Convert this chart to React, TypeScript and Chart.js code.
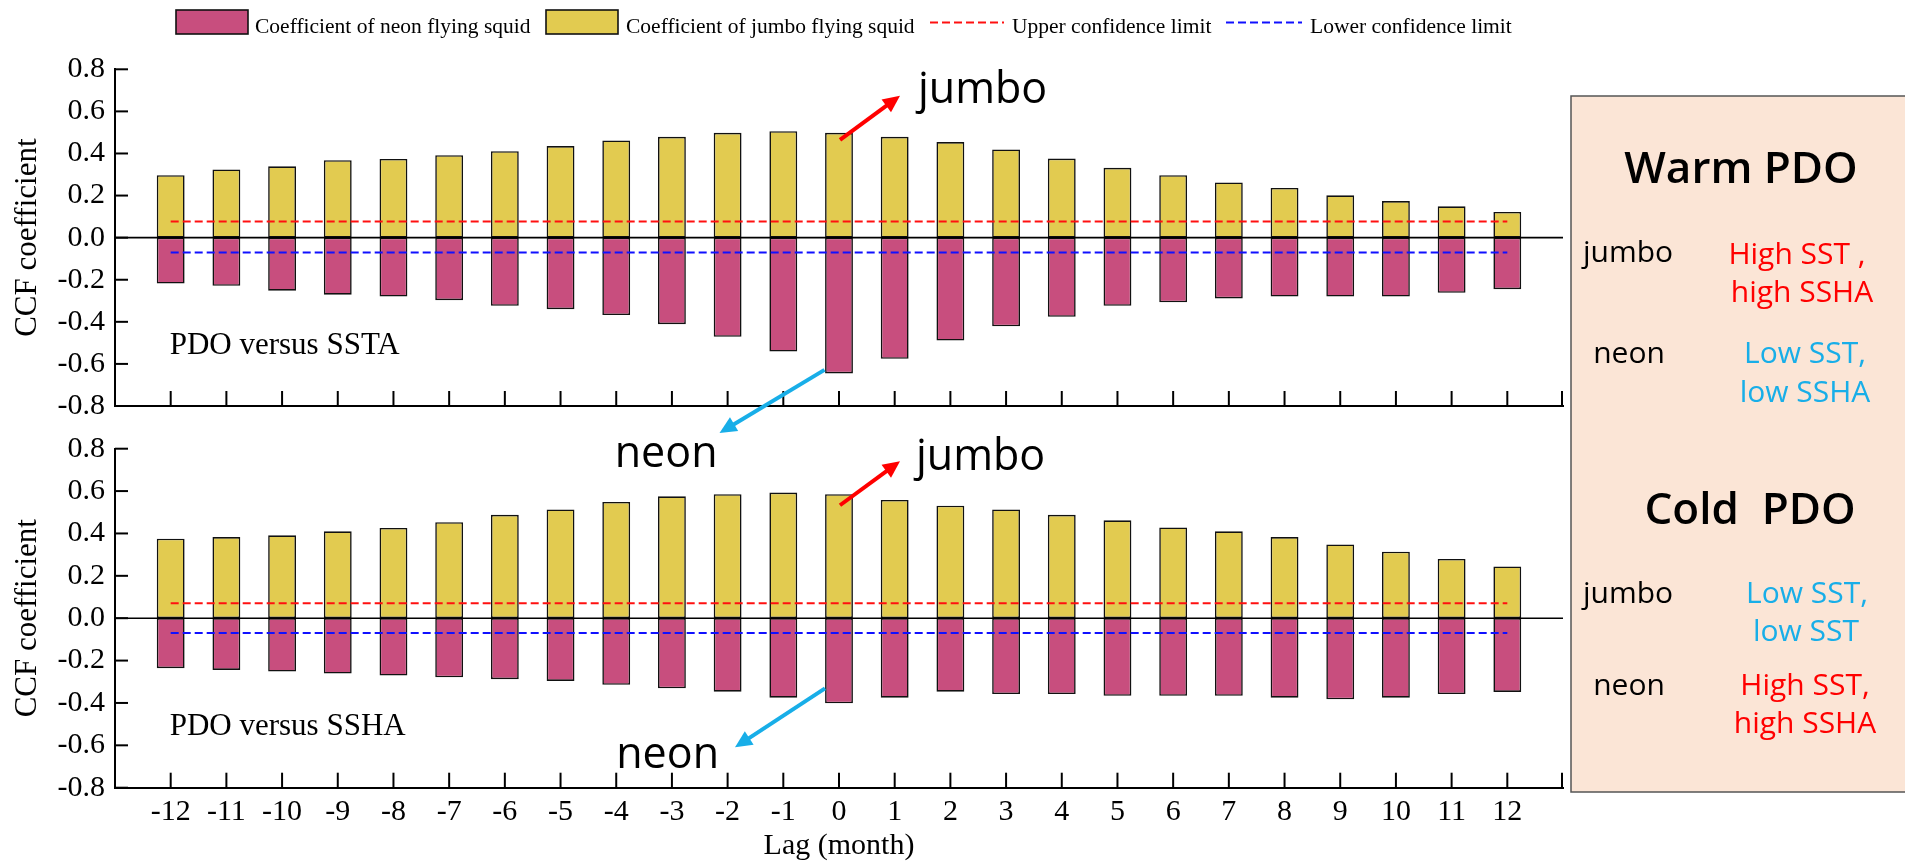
import React, { useEffect, useRef } from 'react';
import { Chart, registerables } from 'chart.js';

Chart.register(...registerables);

// ---------------- data ----------------
const LAGS = [-12, -11, -10, -9, -8, -7, -6, -5, -4, -3, -2, -1, 0, 1, 2, 3, 4, 5, 6, 7, 8, 9, 10, 11, 12];

const TOP_JUMBO = [0.297, 0.324, 0.339, 0.368, 0.374, 0.392, 0.411, 0.435, 0.462, 0.479, 0.498, 0.506, 0.498, 0.479, 0.454, 0.419, 0.376, 0.332, 0.297, 0.262, 0.236, 0.201, 0.174, 0.149, 0.122];
const TOP_NEON = [-0.218, -0.229, -0.252, -0.271, -0.28, -0.297, -0.324, -0.34, -0.368, -0.411, -0.471, -0.541, -0.645, -0.576, -0.489, -0.421, -0.376, -0.324, -0.307, -0.289, -0.28, -0.28, -0.28, -0.262, -0.245];

const BOTTOM_JUMBO = [0.375, 0.383, 0.391, 0.41, 0.426, 0.453, 0.488, 0.513, 0.549, 0.575, 0.585, 0.593, 0.585, 0.558, 0.531, 0.513, 0.488, 0.462, 0.428, 0.41, 0.383, 0.348, 0.314, 0.28, 0.244];
const BOTTOM_NEON = [-0.236, -0.244, -0.252, -0.261, -0.271, -0.279, -0.288, -0.296, -0.314, -0.331, -0.347, -0.375, -0.402, -0.375, -0.347, -0.358, -0.358, -0.366, -0.366, -0.366, -0.375, -0.383, -0.375, -0.358, -0.348];

const TOP_LIMITS = [0.077, -0.07];
const BOTTOM_LIMITS = [0.07, -0.07];

const Y_RANGE = [-0.8, 0.8];
const Y_STEP = 0.2;
const X_RANGE = [-13, 13];

const PANEL_TITLES = ['PDO versus SSTA', 'PDO versus SSHA'];
const LABEL_VALUE = -0.553;

const LEGEND_LABELS = [
  'Coefficient of neon flying squid',
  'Coefficient of jumbo flying squid',
  'Upper confidence limit',
  'Lower confidence limit',
];

// ---------------- styles ----------------
const NEON_COLOR = '#C84E7E';
const JUMBO_COLOR = '#E2CB50';
const UPPER_COLOR = '#FF1010';
const LOWER_COLOR = '#1010FF';
const RED = '#FF0000';
const CYAN = '#18AEE8';
const SERIF = "'Liberation Serif', 'Times New Roman', serif";
const SANS = "'Open Sans', 'Noto Sans', sans-serif";

type Ann = {
  lag: number;
  series: 'jumbo' | 'neon';
  offX: number;
  offY: number;
  dx: number;
  dy: number;
  color: string;
  text: string;
  textDx: number;
  textDy: number;
  align: CanvasTextAlign;
};

const TOP_ANN: Ann[] = [
  { lag: 0, series: 'jumbo', offX: 1, offY: 7, dx: 60, dy: -44, color: RED, text: 'jumbo', textDx: 18, textDy: 7, align: 'left' },
  { lag: 0, series: 'neon', offX: -14.5, offY: -3.5, dx: -105, dy: 63, color: CYAN, text: 'neon', textDx: -2, textDy: 34, align: 'right' },
];
const BOTTOM_ANN: Ann[] = [
  { lag: 0, series: 'jumbo', offX: 1, offY: 11, dx: 60, dy: -44, color: RED, text: 'jumbo', textDx: 16, textDy: 9, align: 'left' },
  { lag: 0, series: 'neon', offX: -14, offY: -15, dx: -90, dy: 59, color: CYAN, text: 'neon', textDx: -16, textDy: 21, align: 'right' },
];

function drawArrow(ctx: CanvasRenderingContext2D, x1: number, y1: number, x2: number, y2: number, color: string) {
  const ang = Math.atan2(y2 - y1, x2 - x1);
  const headLen = 17;
  const headW = 8;
  const bx = x2 - headLen * Math.cos(ang);
  const by = y2 - headLen * Math.sin(ang);
  ctx.strokeStyle = color;
  ctx.fillStyle = color;
  ctx.lineWidth = 4;
  ctx.lineCap = 'butt';
  ctx.setLineDash([]);
  ctx.beginPath();
  ctx.moveTo(x1, y1);
  ctx.lineTo(bx + 2 * Math.cos(ang), by + 2 * Math.sin(ang));
  ctx.stroke();
  ctx.beginPath();
  ctx.moveTo(x2, y2);
  ctx.lineTo(bx + headW * Math.sin(ang), by - headW * Math.cos(ang));
  ctx.lineTo(bx - headW * Math.sin(ang), by + headW * Math.cos(ang));
  ctx.closePath();
  ctx.fill();
}

type PanelProps = {
  jumbo: number[];
  neon: number[];
  limits: number[];
  title: string;
  anns: Ann[];
  showX: boolean;
  top: number;
  height: number;
  padTop: number;
  padBottom: number;
  xAxisH: number;
};

const CANVAS_W = 1575;

function ChartPanel(p: PanelProps) {
  const ref = useRef<HTMLCanvasElement | null>(null);

  useEffect(() => {
    if (!ref.current) return;
    const first = LAGS[0];
    const last = LAGS[LAGS.length - 1];

    const decor = {
      id: 'decor',
      afterDatasetsDraw(chart: any) {
        const { ctx, chartArea } = chart;
        const ys = chart.scales.y;
        ctx.save();
        const y0 = ys.getPixelForValue(0);
        ctx.strokeStyle = '#000';
        ctx.lineWidth = 1.6;
        ctx.beginPath();
        ctx.moveTo(chartArea.left, y0);
        ctx.lineTo(chartArea.right, y0);
        ctx.stroke();
        ctx.restore();
      },
      afterDraw(chart: any) {
        const { ctx, chartArea } = chart;
        const xs = chart.scales.x;
        const ys = chart.scales.y;
        ctx.save();
        ctx.strokeStyle = '#000';
        ctx.lineWidth = 2;
        ctx.setLineDash([]);
        ys.ticks.forEach((t: any) => {
          const py = ys.getPixelForValue(t.value);
          ctx.beginPath();
          ctx.moveTo(chartArea.left, py);
          ctx.lineTo(chartArea.left + 13, py);
          ctx.stroke();
        });
        const xt = xs.ticks.map((t: any) => xs.getPixelForValue(t.value));
        xt.push(chartArea.right - 1);
        xt.forEach((px: number) => {
          ctx.beginPath();
          ctx.moveTo(px, chartArea.bottom);
          ctx.lineTo(px, chartArea.bottom - 15);
          ctx.stroke();
        });
        ctx.fillStyle = '#000';
        ctx.font = `31px ${SERIF}`;
        ctx.textAlign = 'left';
        ctx.textBaseline = 'alphabetic';
        ctx.fillText(p.title, xs.getPixelForValue(first) - 1, ys.getPixelForValue(LABEL_VALUE));
        p.anns.forEach((a) => {
          const idx = LAGS.indexOf(a.lag);
          const v = a.series === 'jumbo' ? p.jumbo[idx] : p.neon[idx];
          const sx = xs.getPixelForValue(a.lag) + a.offX;
          const sy = ys.getPixelForValue(v) + a.offY;
          const ex = sx + a.dx;
          const ey = sy + a.dy;
          drawArrow(ctx, sx, sy, ex, ey, a.color);
          ctx.fillStyle = '#000';
          ctx.font = `43px ${SANS}`;
          ctx.textAlign = a.align;
          ctx.textBaseline = 'alphabetic';
          ctx.fillText(a.text, ex + a.textDx, ey + a.textDy);
        });
        ctx.restore();
      },
    };

    const chart = new Chart(ref.current, {
      type: 'bar',
      data: {
        datasets: [
          {
            type: 'line',
            label: LEGEND_LABELS[2],
            data: [{ x: first, y: p.limits[0] }, { x: last, y: p.limits[0] }],
            borderColor: UPPER_COLOR,
            borderWidth: 2,
            borderDash: [8, 4],
            pointRadius: 0,
            fill: false,
            order: 0,
          },
          {
            type: 'line',
            label: LEGEND_LABELS[3],
            data: [{ x: first, y: p.limits[1] }, { x: last, y: p.limits[1] }],
            borderColor: LOWER_COLOR,
            borderWidth: 2,
            borderDash: [8, 4],
            pointRadius: 0,
            fill: false,
            order: 0,
          },
          {
            type: 'bar',
            label: LEGEND_LABELS[0],
            data: LAGS.map((x, i) => ({ x, y: p.neon[i] })),
            backgroundColor: NEON_COLOR,
            borderColor: '#111',
            borderWidth: 1.6,
            borderSkipped: false,
            grouped: false,
            barPercentage: 0.5,
            categoryPercentage: 1,
            order: 1,
          },
          {
            type: 'bar',
            label: LEGEND_LABELS[1],
            data: LAGS.map((x, i) => ({ x, y: p.jumbo[i] })),
            backgroundColor: JUMBO_COLOR,
            borderColor: '#111',
            borderWidth: 1.6,
            borderSkipped: false,
            grouped: false,
            barPercentage: 0.5,
            categoryPercentage: 1,
            order: 1,
          },
        ] as any,
      },
      options: {
        responsive: false,
        animation: false,
        devicePixelRatio: 1,
        layout: { padding: { top: p.padTop, bottom: p.padBottom, left: 0, right: CANVAS_W - 1563 } },
        plugins: { legend: { display: false }, tooltip: { enabled: false } },
        scales: {
          x: {
            type: 'linear',
            min: X_RANGE[0],
            max: X_RANGE[1],
            offset: false,
            grid: { display: false, drawTicks: false },
            border: { display: true, color: '#000', width: 2 },
            ticks: {
              display: p.showX,
              stepSize: 1,
              autoSkip: false,
              maxRotation: 0,
              padding: 6,
              color: '#000',
              font: { family: SERIF, size: 30 },
              callback: (v: any) => String(v),
            },
            afterBuildTicks: (s: any) => {
              s.ticks = s.ticks.filter((t: any) => t.value >= first && t.value <= last);
            },
            afterFit: (s: any) => {
              s.height = p.xAxisH;
            },
            title: {
              display: p.showX,
              text: 'Lag (month)',
              color: '#000',
              font: { family: SERIF, size: 30 },
              padding: { top: 0, bottom: 0 },
            },
          },
          y: {
            min: Y_RANGE[0],
            max: Y_RANGE[1],
            grid: { display: false, drawTicks: false },
            border: { display: true, color: '#000', width: 2 },
            ticks: {
              stepSize: Y_STEP,
              padding: 10,
              color: '#000',
              font: { family: SERIF, size: 30 },
              callback: (v: any) => (Math.abs(v) < 1e-9 ? '0.0' : Number(v).toFixed(1)),
            },
            afterFit: (s: any) => {
              s.width = 115;
            },
            title: {
              display: true,
              text: 'CCF coefficient',
              color: '#000',
              font: { family: SERIF, size: 31 },
              padding: { top: 9, bottom: 0 },
            },
          },
        },
      } as any,
      plugins: [decor],
    });
    return () => chart.destroy();
  }, []);

  return (
    <canvas
      ref={ref}
      width={CANVAS_W}
      height={p.height}
      style={{ position: 'absolute', left: 0, top: p.top, width: CANVAS_W, height: p.height }}
    />
  );
}

const PANEL_LINES: { t: string; x: number; y: number; c: string; size: number; bold?: boolean }[] = [
  { t: 'Warm PDO', x: 1741, y: 183, c: '#000', size: 44, bold: true },
  { t: 'jumbo', x: 1628, y: 262, c: '#000', size: 30 },
  { t: 'High SST ,', x: 1797, y: 264, c: RED, size: 30 },
  { t: 'high SSHA', x: 1802, y: 302, c: RED, size: 30 },
  { t: 'neon', x: 1629, y: 363, c: '#000', size: 30 },
  { t: 'Low SST,', x: 1805, y: 363, c: CYAN, size: 30 },
  { t: 'low SSHA', x: 1805, y: 402, c: CYAN, size: 30 },
  { t: 'Cold  PDO', x: 1750, y: 524, c: '#000', size: 44, bold: true },
  { t: 'jumbo', x: 1628, y: 603, c: '#000', size: 30 },
  { t: 'Low SST,', x: 1807, y: 603, c: CYAN, size: 30 },
  { t: 'low SST', x: 1806, y: 641, c: CYAN, size: 30 },
  { t: 'neon', x: 1629, y: 695, c: '#000', size: 30 },
  { t: 'High SST,', x: 1805, y: 695, c: RED, size: 30 },
  { t: 'high SSHA', x: 1805, y: 733, c: RED, size: 30 },
];

export default function App() {
  return (
    <div style={{ position: 'absolute', left: 0, top: 0, width: 1905, height: 864, overflow: 'hidden', background: '#fff' }}>
      <ChartPanel
        jumbo={TOP_JUMBO}
        neon={TOP_NEON}
        limits={TOP_LIMITS}
        title={PANEL_TITLES[0]}
        anns={TOP_ANN}
        showX={false}
        top={40}
        height={440}
        padTop={29.3}
        padBottom={64}
        xAxisH={10}
      />
      <ChartPanel
        jumbo={BOTTOM_JUMBO}
        neon={BOTTOM_NEON}
        limits={BOTTOM_LIMITS}
        title={PANEL_TITLES[1]}
        anns={BOTTOM_ANN}
        showX={true}
        top={420}
        height={444}
        padTop={28.7}
        padBottom={0}
        xAxisH={76.3}
      />
      <svg width={1905} height={864} style={{ position: 'absolute', left: 0, top: 0, pointerEvents: 'none' }}>
        <rect x={176} y={10} width={72} height={24} fill={NEON_COLOR} stroke="#111" strokeWidth={1.6} />
        <text x={255} y={33} fontFamily={SERIF} fontSize={21.5} fill="#000">{LEGEND_LABELS[0]}</text>
        <rect x={546} y={10} width={72} height={24} fill={JUMBO_COLOR} stroke="#111" strokeWidth={1.6} />
        <text x={626} y={33} fontFamily={SERIF} fontSize={21.5} fill="#000">{LEGEND_LABELS[1]}</text>
        <line x1={930} y1={22.5} x2={1004} y2={22.5} stroke={UPPER_COLOR} strokeWidth={2} strokeDasharray="8 4" />
        <text x={1012} y={33} fontFamily={SERIF} fontSize={21.5} fill="#000">{LEGEND_LABELS[2]}</text>
        <line x1={1226} y1={22.5} x2={1302} y2={22.5} stroke={LOWER_COLOR} strokeWidth={2} strokeDasharray="8 4" />
        <text x={1310} y={33} fontFamily={SERIF} fontSize={21.5} fill="#000">{LEGEND_LABELS[3]}</text>
        <rect x={1571} y={96} width={400} height={696} fill="#FBE5D6" stroke="#555" strokeWidth={1.5} />
        {PANEL_LINES.map((l, i) => (
          <text
            key={i}
            x={l.x}
            y={l.y}
            textAnchor="middle"
            fontFamily={SANS}
            fontSize={l.size}
            fontWeight={l.bold ? 600 : 400}
            fill={l.c}
            style={{ whiteSpace: 'pre' }}
          >
            {l.t}
          </text>
        ))}
      </svg>
    </div>
  );
}
